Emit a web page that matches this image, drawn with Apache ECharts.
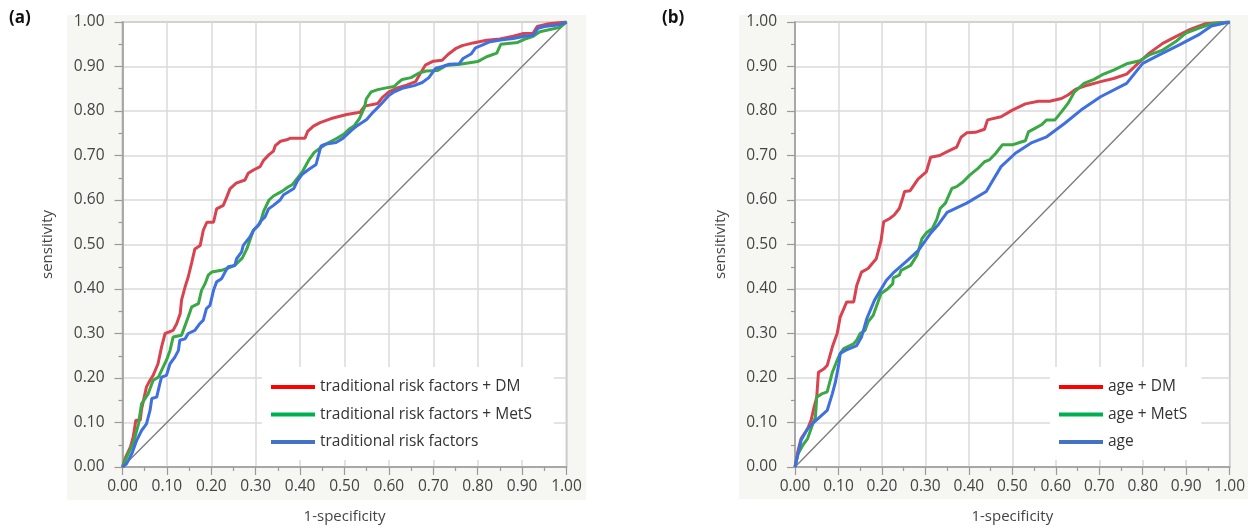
<!DOCTYPE html>
<html>
<head>
<meta charset="utf-8">
<script src="https://cdn.jsdelivr.net/npm/echarts@6/dist/echarts.min.js"></script>
<style>
html,body{margin:0;padding:0;background:#fff;}
#chart{width:1248px;height:531px;}
</style>
</head>
<body>
<div id="chart"></div>
<script>
// ---------- data ----------
const panelLabels = ['(a)', '(b)'];
const legendA = ['traditional risk factors + DM', 'traditional risk factors + MetS', 'traditional risk factors'];
const legendB = ['age + DM', 'age + MetS', 'age'];
const xAxisTitle = '1-specificity';
const yAxisTitle = 'sensitivity';
const diagonal = [[0, 0], [1, 1]];

const aRed = [[0,0],[0.007,0.022],[0.018,0.045],[0.024,0.067],[0.03,0.105],[0.04,0.105],[0.043,0.13],[0.054,0.18],[0.062,0.195],[0.069,0.206],[0.08,0.232],[0.088,0.27],[0.096,0.30],[0.114,0.307],[0.122,0.322],[0.13,0.345],[0.133,0.375],[0.141,0.405],[0.148,0.427],[0.156,0.46],[0.163,0.49],[0.175,0.498],[0.182,0.532],[0.19,0.55],[0.205,0.55],[0.212,0.58],[0.227,0.588],[0.235,0.607],[0.242,0.625],[0.256,0.638],[0.276,0.645],[0.283,0.66],[0.296,0.668],[0.31,0.675],[0.317,0.688],[0.33,0.702],[0.34,0.71],[0.344,0.722],[0.356,0.732],[0.372,0.736],[0.378,0.739],[0.411,0.739],[0.417,0.754],[0.43,0.766],[0.445,0.774],[0.47,0.783],[0.505,0.792],[0.535,0.797],[0.545,0.811],[0.575,0.817],[0.585,0.83],[0.6,0.843],[0.617,0.851],[0.64,0.858],[0.66,0.866],[0.671,0.885],[0.682,0.903],[0.70,0.912],[0.72,0.914],[0.733,0.927],[0.75,0.94],[0.765,0.947],[0.79,0.953],[0.82,0.959],[0.85,0.962],[0.88,0.968],[0.903,0.974],[0.925,0.975],[0.934,0.99],[0.96,0.996],[1,1]];

const aGreen = [[0,0],[0.009,0.022],[0.024,0.052],[0.036,0.097],[0.043,0.142],[0.058,0.165],[0.069,0.195],[0.081,0.202],[0.088,0.217],[0.099,0.24],[0.107,0.262],[0.114,0.292],[0.133,0.296],[0.137,0.307],[0.148,0.337],[0.156,0.36],[0.171,0.367],[0.178,0.397],[0.186,0.412],[0.193,0.431],[0.201,0.438],[0.223,0.442],[0.235,0.446],[0.253,0.453],[0.27,0.47],[0.28,0.49],[0.287,0.51],[0.295,0.532],[0.31,0.548],[0.318,0.575],[0.33,0.6],[0.34,0.609],[0.36,0.62],[0.371,0.628],[0.383,0.635],[0.398,0.654],[0.406,0.665],[0.421,0.692],[0.432,0.707],[0.447,0.718],[0.459,0.726],[0.48,0.737],[0.499,0.748],[0.51,0.759],[0.522,0.767],[0.533,0.782],[0.545,0.808],[0.549,0.827],[0.56,0.843],[0.575,0.848],[0.594,0.852],[0.612,0.855],[0.62,0.863],[0.63,0.871],[0.65,0.875],[0.667,0.885],[0.684,0.89],[0.71,0.891],[0.728,0.902],[0.76,0.905],[0.8,0.911],[0.82,0.922],[0.843,0.93],[0.852,0.95],[0.89,0.954],[0.91,0.963],[0.925,0.968],[0.94,0.978],[0.985,0.988],[1,1]];

const aBlue = [[0,0],[0.009,0.007],[0.021,0.03],[0.032,0.06],[0.043,0.082],[0.054,0.097],[0.062,0.127],[0.066,0.154],[0.077,0.157],[0.084,0.187],[0.088,0.202],[0.099,0.206],[0.107,0.232],[0.118,0.247],[0.126,0.262],[0.129,0.285],[0.141,0.288],[0.148,0.30],[0.163,0.307],[0.174,0.322],[0.182,0.33],[0.189,0.356],[0.197,0.363],[0.205,0.397],[0.212,0.416],[0.223,0.423],[0.231,0.438],[0.238,0.45],[0.253,0.453],[0.257,0.468],[0.268,0.483],[0.272,0.498],[0.287,0.517],[0.295,0.532],[0.306,0.543],[0.31,0.551],[0.321,0.562],[0.329,0.58],[0.34,0.588],[0.355,0.6],[0.363,0.612],[0.386,0.626],[0.394,0.643],[0.405,0.658],[0.42,0.669],[0.436,0.68],[0.447,0.721],[0.455,0.725],[0.481,0.729],[0.497,0.739],[0.515,0.756],[0.526,0.765],[0.55,0.781],[0.564,0.797],[0.58,0.813],[0.6,0.835],[0.612,0.843],[0.63,0.851],[0.657,0.857],[0.675,0.864],[0.69,0.875],[0.705,0.896],[0.721,0.9],[0.736,0.905],[0.758,0.906],[0.767,0.918],[0.785,0.928],[0.795,0.942],[0.81,0.948],[0.825,0.955],[0.855,0.96],[0.88,0.963],[0.905,0.968],[0.925,0.97],[0.936,0.986],[0.95,0.99],[0.984,0.994],[1,1]];

const bRed = [[0,0],[0.007,0.037],[0.014,0.064],[0.029,0.086],[0.037,0.105],[0.044,0.135],[0.05,0.157],[0.054,0.213],[0.067,0.221],[0.074,0.228],[0.086,0.27],[0.097,0.30],[0.104,0.337],[0.119,0.371],[0.135,0.371],[0.142,0.408],[0.153,0.438],[0.168,0.446],[0.187,0.468],[0.198,0.509],[0.204,0.551],[0.217,0.558],[0.228,0.566],[0.24,0.581],[0.248,0.605],[0.252,0.619],[0.265,0.621],[0.283,0.647],[0.302,0.663],[0.312,0.696],[0.333,0.70],[0.349,0.708],[0.372,0.719],[0.382,0.741],[0.395,0.751],[0.415,0.752],[0.436,0.759],[0.443,0.78],[0.474,0.787],[0.50,0.802],[0.53,0.816],[0.56,0.822],[0.586,0.822],[0.613,0.828],[0.628,0.836],[0.646,0.849],[0.673,0.858],[0.703,0.866],[0.733,0.873],[0.763,0.883],[0.785,0.903],[0.815,0.93],[0.846,0.952],[0.876,0.967],[0.906,0.982],[0.943,0.996],[1,1]];

const bGreen = [[0,0],[0.007,0.03],[0.018,0.049],[0.029,0.064],[0.041,0.097],[0.047,0.112],[0.05,0.157],[0.063,0.165],[0.074,0.169],[0.086,0.213],[0.097,0.24],[0.104,0.255],[0.112,0.266],[0.135,0.277],[0.142,0.285],[0.15,0.30],[0.161,0.307],[0.168,0.326],[0.18,0.341],[0.187,0.36],[0.198,0.39],[0.213,0.40],[0.225,0.412],[0.226,0.425],[0.24,0.431],[0.244,0.442],[0.266,0.453],[0.281,0.476],[0.292,0.513],[0.303,0.527],[0.316,0.536],[0.326,0.556],[0.334,0.581],[0.346,0.593],[0.361,0.626],[0.372,0.63],[0.387,0.641],[0.402,0.656],[0.421,0.671],[0.436,0.686],[0.447,0.69],[0.462,0.705],[0.477,0.724],[0.50,0.724],[0.522,0.731],[0.53,0.733],[0.537,0.753],[0.552,0.761],[0.567,0.769],[0.579,0.78],[0.598,0.78],[0.613,0.798],[0.628,0.817],[0.643,0.843],[0.665,0.862],[0.688,0.871],[0.71,0.883],[0.733,0.892],[0.763,0.906],[0.793,0.913],[0.815,0.926],[0.846,0.937],[0.876,0.956],[0.899,0.975],[0.928,0.986],[0.958,0.996],[1,1]];

const bBlue = [[0,0],[0.007,0.03],[0.014,0.06],[0.029,0.086],[0.044,0.101],[0.074,0.127],[0.086,0.165],[0.093,0.191],[0.101,0.232],[0.104,0.255],[0.116,0.262],[0.142,0.273],[0.153,0.292],[0.165,0.333],[0.183,0.375],[0.21,0.419],[0.228,0.438],[0.255,0.461],[0.284,0.487],[0.311,0.524],[0.33,0.545],[0.35,0.572],[0.395,0.593],[0.44,0.619],[0.474,0.675],[0.507,0.705],[0.545,0.729],[0.579,0.742],[0.62,0.772],[0.658,0.802],[0.703,0.832],[0.763,0.862],[0.80,0.907],[0.838,0.926],[0.883,0.948],[0.928,0.971],[0.958,0.991],[1,1]];

// ---------- styling ----------
const FONT = '"Open Sans", "Noto Sans", sans-serif';
const lineColors = ['#d9434f', '#3aa844', '#3f6fe0'];
const legendColors = ['#ff0000', '#00b050', '#4472c4'];
const labelColor = '#444';
const TICK_FS = 15.5;

function makeXAxis(gridIndex) {
  return {
    gridIndex, type: 'value', min: 0, max: 1, interval: 0.1,
    name: xAxisTitle, nameLocation: 'middle', nameGap: 42,
    nameTextStyle: { fontFamily: FONT, fontSize: 15, color: labelColor },
    axisLine: { show: true, onZero: false, lineStyle: { color: '#9a9a9a', width: 1.5 } },
    axisTick: { show: true, length: 8, lineStyle: { color: '#9a9a9a', width: 1.2 } },
    minorTick: { show: true, splitNumber: 2, length: 4, lineStyle: { color: '#9a9a9a', width: 1.2 } },
    axisLabel: { margin: 12, fontFamily: FONT, fontSize: TICK_FS, color: labelColor, formatter: v => v.toFixed(2) },
    splitLine: { show: true, lineStyle: { color: '#dadada', width: 1.5 } }
  };
}
function makeYAxis(gridIndex) {
  return {
    gridIndex, type: 'value', min: 0, max: 1, interval: 0.1,
    name: yAxisTitle, nameLocation: 'middle', nameGap: 67, nameRotate: 90,
    nameTextStyle: { fontFamily: FONT, fontSize: 15, color: labelColor },
    axisLine: { show: true, onZero: false, lineStyle: { color: '#9a9a9a', width: 1.5 } },
    axisTick: { show: true, length: 8, lineStyle: { color: '#9a9a9a', width: 1.2 } },
    minorTick: { show: true, splitNumber: 2, length: 4, lineStyle: { color: '#9a9a9a', width: 1.2 } },
    axisLabel: { margin: 18, fontFamily: FONT, fontSize: TICK_FS, color: labelColor, formatter: v => v.toFixed(2) },
    splitLine: { show: true, lineStyle: { color: '#dadada', width: 1.5 } }
  };
}
function lineSeries(name, data, idx, color) {
  return {
    name, type: 'line', data, xAxisIndex: idx, yAxisIndex: idx,
    showSymbol: false, symbol: 'none', smooth: false,
    lineStyle: { color, width: 3 }, itemStyle: { color },
    z: 3, silent: true
  };
}
function diagSeries(idx) {
  return {
    type: 'line', data: diagonal, xAxisIndex: idx, yAxisIndex: idx,
    showSymbol: false, symbol: 'none',
    lineStyle: { color: '#7a7a7a', width: 1.3 }, z: 2, silent: true
  };
}
function makeLegend(names, left, pad) {
  return {
    orient: 'vertical', left, top: 367,
    backgroundColor: '#ffffff', padding: pad,
    itemWidth: 44, itemHeight: 4, itemGap: 9.5, icon: 'rect',
    textStyle: { fontFamily: FONT, fontSize: 15.5, color: '#333', lineHeight: 18 },
    data: names.map((n, i) => ({ name: n, icon: 'rect', itemStyle: { color: legendColors[i] } })),
    selectedMode: false
  };
}

const chart = echarts.init(document.getElementById('chart'), null, { renderer: 'canvas' });
chart.setOption({
  animation: false,
  backgroundColor: '#ffffff',
  graphic: [
    { type: 'rect', left: 67, top: 15, shape: { width: 519, height: 485 }, style: { fill: '#f6f6f2' }, z: -10, silent: true },
    { type: 'rect', left: 739, top: 15, shape: { width: 509, height: 484 }, style: { fill: '#f6f6f2' }, z: -10, silent: true },
    { type: 'text', left: 9, top: 10, style: { text: panelLabels[0], font: 'bold 17px ' + FONT, fill: '#111' } },
    { type: 'text', left: 662, top: 10, style: { text: panelLabels[1], font: 'bold 17px ' + FONT, fill: '#111' } }
  ],
  grid: [
    { left: 122.5, top: 22, width: 444, height: 445, show: true, backgroundColor: '#ffffff', borderColor: '#a8a8a8', borderWidth: 1.5 },
    { left: 795, top: 22, width: 443.5, height: 445, show: true, backgroundColor: '#ffffff', borderColor: '#a8a8a8', borderWidth: 1.5 }
  ],
  xAxis: [makeXAxis(0), makeXAxis(1)],
  yAxis: [makeYAxis(0), makeYAxis(1)],
  legend: [makeLegend(legendA, 262, [11, 22, 9, 9]), makeLegend(legendB, 1050, [11, 14, 9, 9])],
  series: [
    diagSeries(0),
    lineSeries(legendA[0], aRed, 0, lineColors[0]),
    lineSeries(legendA[1], aGreen, 0, lineColors[1]),
    lineSeries(legendA[2], aBlue, 0, lineColors[2]),
    diagSeries(1),
    lineSeries(legendB[0], bRed, 1, lineColors[0]),
    lineSeries(legendB[1], bGreen, 1, lineColors[1]),
    lineSeries(legendB[2], bBlue, 1, lineColors[2])
  ]
});
</script>
</body>
</html>
